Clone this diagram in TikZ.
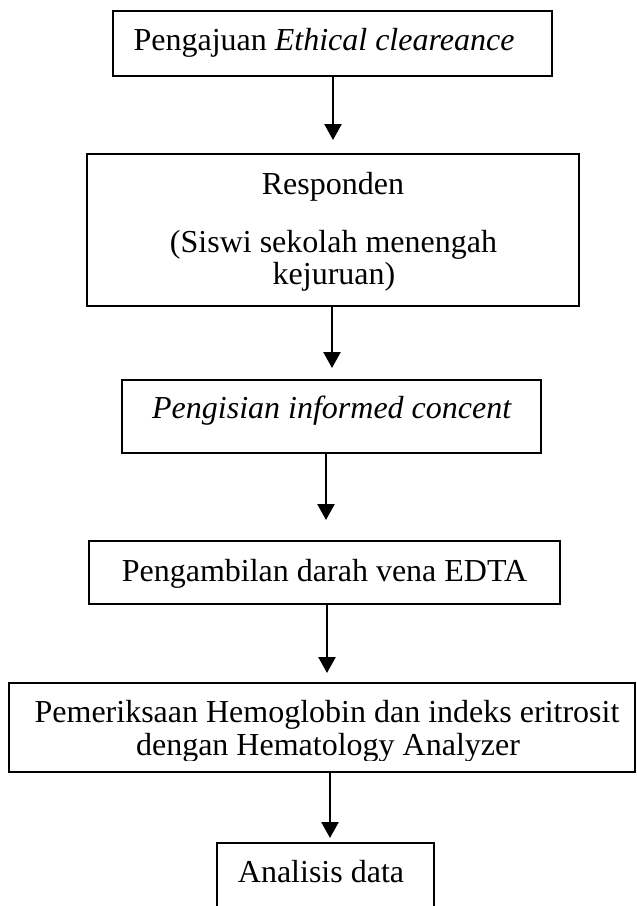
\documentclass[tikz,border=0pt]{standalone}
\usepackage{fontspec}
\setmainfont{Liberation Serif}
\usetikzlibrary{arrows.meta}
\tikzset{
  box/.style={draw=black, line width=2pt, rectangle, inner sep=0pt, outer sep=0pt},
  lbl/.style={anchor=base, inner sep=0pt, font=\fontsize{32}{33}\selectfont},
  arr/.style={draw=black, line width=2.5pt, -{Triangle[width=17pt,length=16pt]}}
}
\begin{document}
\begin{tikzpicture}[x=1pt, y=-1pt]
\useasboundingbox (0,0) rectangle (637,906);
\clip (0,0) rectangle (637,906);
\fill[white] (0,0) rectangle (637,906);

% boxes
\node[box, minimum width=439pt, minimum height=65pt] (b1) at (332.5,43.5) {};
\node[box, minimum width=492pt, minimum height=152pt] (b2) at (333,230) {};
\node[box, minimum width=419pt, minimum height=73pt] (b3) at (331.5,416.5) {};
\node[box, minimum width=471pt, minimum height=63pt] (b4) at (324.5,572.5) {};
\node[box, minimum width=626pt, minimum height=89pt] (b5) at (322,727.5) {};
\node[box, minimum width=217pt, minimum height=80pt] (b6) at (325.5,883) {};

% labels
\node[lbl] (l1) at (324,50) {Pengajuan \textit{Ethical cleareance}};
\node[lbl] (l2a) at (333,194) {Responden};
\node[lbl] (l2b) at (333.5,252) {(Siswi sekolah menengah};
\node[lbl] (l2c) at (334,284) {kejuruan)};
\node[lbl] (l3) at (332,418) {\textit{Pengisian informed concent}};
\node[lbl] (l4) at (324.5,581) {Pengambilan darah vena EDTA};
\begin{scope}
\clip (9,683) rectangle (635,760);
\node[lbl] (l5a) at (327,722) {Pemeriksaan Hemoglobin dan indeks eritrosit};
\node[lbl] (l5b) at (328,755) {dengan Hematology Analyzer};
\end{scope}
\node[lbl] (l6) at (321,882) {Analisis data};

% arrow tips
\coordinate (t1) at (333,140);
\coordinate (t2) at (332,368);
\coordinate (t3) at (326,520);
\coordinate (t4) at (327,673);
\coordinate (t5) at (330,838);

\draw[arr] (b1.south -| t1) -- (t1);
\draw[arr] (b2.south -| t2) -- (t2);
\draw[arr] (b3.south -| t3) -- (t3);
\draw[arr] (b4.south -| t4) -- (t4);
\draw[arr] (b5.south -| t5) -- (t5);
\end{tikzpicture}
\end{document}
